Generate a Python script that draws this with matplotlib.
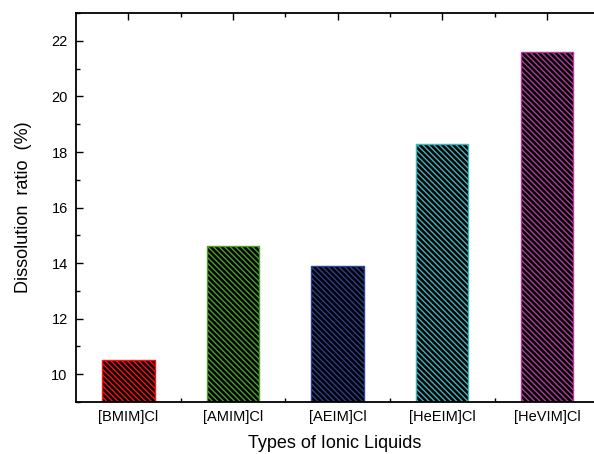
import numpy as np
import matplotlib
matplotlib.use("Agg")
import matplotlib.pyplot as plt
from matplotlib.ticker import MultipleLocator, FixedLocator

plt.rcParams['font.family'] = ['Liberation Sans', 'DejaVu Sans']
plt.rcParams['hatch.linewidth'] = 1.0

# ionic liquids and their dissolution ratios
liquids = ["[BMIM]Cl", "[AMIM]Cl", "[AEIM]Cl", "[HeEIM]Cl", "[HeVIM]Cl"]
ratio = [10.5, 14.6, 13.9, 18.3, 21.6]
colors = ["#ff1010", "#4aa02a", "#2a4290", "#40b4bc", "#b03c9c"]

fig = plt.figure(figsize=(5.94, 4.54), dpi=100)
ax = fig.add_axes([0.128, 0.1145, 0.872, 0.8565])

x = np.arange(1, len(liquids) + 1)
for i in range(len(liquids)):
    ax.bar(x[i], ratio[i] - 9, bottom=9, width=0.5, facecolor="black",
           edgecolor=colors[i], hatch="\\" * 6, linewidth=1.0, zorder=2)

ax.set_xlim(0.5, 5.45)
ax.set_ylim(9, 23)
ax.set_xticks(x)
ax.set_xticklabels(liquids)
ax.xaxis.set_minor_locator(FixedLocator(x[:-1] + 0.5))
ax.yaxis.set_minor_locator(MultipleLocator(1))
ax.set_yticks(np.arange(10, 23, 2))

ax.spines['right'].set_visible(False)
for s in ['left', 'top', 'bottom']:
    ax.spines[s].set_linewidth(1.3)

ax.tick_params(axis='both', which='both', direction='in', top=True, right=False)
ax.tick_params(axis='both', which='major', length=5, width=1.0, labelsize=10.5, pad=6)
ax.tick_params(axis='both', which='minor', length=3, width=1.0)

ax.set_xlabel("Types of Ionic Liquids", fontsize=13, labelpad=8)
ax.set_ylabel("Dissolution  ratio  (%)", fontsize=13, labelpad=14)

fig.savefig("out.png", dpi=100)
